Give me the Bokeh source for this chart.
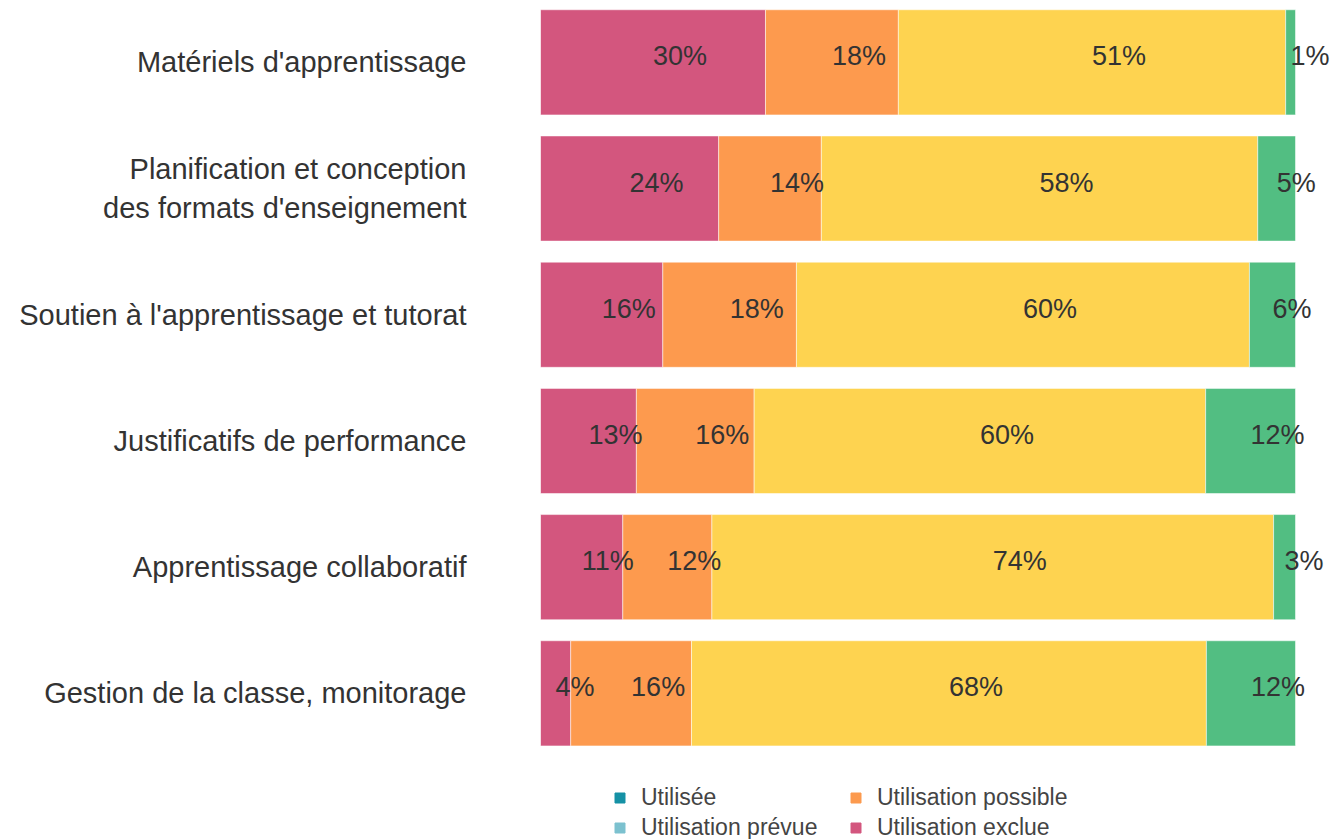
from bokeh.plotting import figure
from bokeh.models import ColumnDataSource, Range1d, FixedTicker, Legend, LegendItem
from bokeh.embed import file_html
from bokeh.resources import INLINE
from bokeh.core.properties import value

categories = [
    "Matériels d'apprentissage",
    "Planification et conception\ndes formats d'enseignement",
    "Soutien à l'apprentissage et tutorat",
    "Justificatifs de performance",
    "Apprentissage collaboratif",
    "Gestion de la classe, monitorage",
]
# segment shares (%), left to right
seg_pink = [29.8, 23.6, 16.2, 12.7, 10.9, 4.0]
seg_orange = [17.6, 13.6, 17.7, 15.6, 11.8, 16.0]
seg_yellow = [51.3, 57.8, 60.0, 59.8, 74.4, 68.2]
seg_green = [1.3, 5.0, 6.1, 11.9, 2.9, 11.8]

legend_col1_labels = ["Utilisée", "Utilisation prévue"]
legend_col1_colors = ["#1591A5", "#7CC1CF"]
legend_col2_labels = ["Utilisation possible", "Utilisation exclue"]
legend_col2_colors = ["#FC9A4E", "#D3567E"]

seg_colors = ["#D3567E", "#FD9A4E", "#FED350", "#52BE82"]
series = [seg_pink, seg_orange, seg_yellow, seg_green]

FONT = "Liberation Sans"
W, H = 1330, 839
FRAME_LEFT = 540

ys = [-i for i in range(len(categories))]
px_per_unit = 126.2
y_end = 0.49
y_start = y_end - H / px_per_unit

p = figure(width=W, height=H, output_backend="svg", toolbar_location=None,
           x_range=Range1d(0, 100 * (W - FRAME_LEFT) / 755), y_range=Range1d(y_start, y_end),
           min_border_left=FRAME_LEFT, min_border_right=0, min_border_top=0, min_border_bottom=0)

sources = []
lefts = [0.0] * len(categories)
for vals, col in zip(series, seg_colors):
    rights = [l + v for l, v in zip(lefts, vals)]
    src = ColumnDataSource(dict(
        y=ys, left=lefts, right=rights,
        mid=[(l + r) / 2 for l, r in zip(lefts, rights)],
        lab=[f"{round(v)}%" for v in vals],
    ))
    p.hbar(y="y", left="left", right="right", height=0.833, source=src,
           fill_color=col, line_color="white", line_alpha=0.5, line_width=1)
    sources.append(src)
    lefts = rights

for src in sources:
    p.text(x="mid", y="y", text="lab", source=src, text_align="left",
           text_baseline="middle", y_offset=-6, text_font=value(FONT),
           text_font_size="27px", text_color="#333333")


def make_legend(labels, colors, x):
    items = []
    for lab, col in zip(labels, colors):
        r = p.scatter(x=[-50], y=[0], marker="square", size=10, fill_color=col, line_color=col)
        items.append(LegendItem(label=lab, renderers=[r]))
    leg = Legend(items=items, location=(x, -2), orientation="vertical",
                 glyph_width=25, glyph_height=25, label_standoff=9,
                 label_text_font=FONT, label_text_font_size="23px", label_text_color="#444444",
                 label_height=26, spacing=3, padding=0, margin=0,
                 border_line_alpha=0, background_fill_alpha=0)
    p.add_layout(leg)


make_legend(legend_col1_labels, legend_col1_colors, 607 - FRAME_LEFT)
make_legend(legend_col2_labels, legend_col2_colors, 843 - FRAME_LEFT)

p.xaxis.visible = False
p.xgrid.visible = False
p.ygrid.visible = False
p.outline_line_color = None

ax = p.yaxis[0]
ax.ticker = FixedTicker(ticks=ys)
ax.major_label_overrides = {y: c for y, c in zip(ys, categories)}
ax.axis_line_color = None
ax.major_tick_line_color = None
ax.minor_tick_line_color = None
ax.major_tick_out = 0
ax.major_tick_in = 0
ax.major_label_standoff = 74
ax.major_label_text_font = FONT
ax.major_label_text_font_size = "29px"
ax.major_label_text_color = "#333333"

open("out.html", "w").write(file_html(p, INLINE))
